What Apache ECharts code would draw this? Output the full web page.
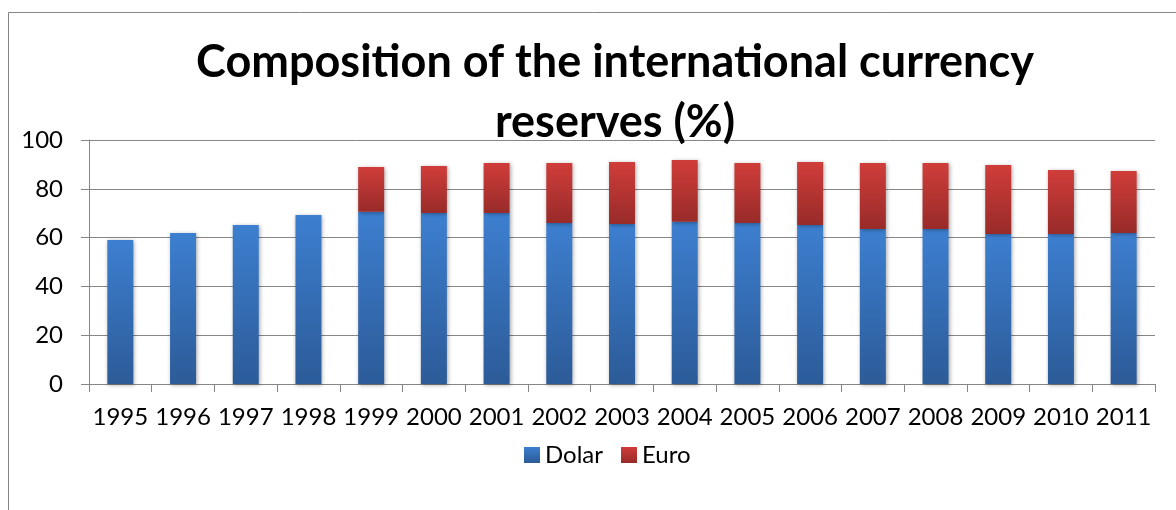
<!DOCTYPE html>
<html lang="en">
<head>
    <meta charset="UTF-8">
    <title>Composition of the international currency reserves</title>
    <script src="https://cdn.jsdelivr.net/npm/echarts@6/dist/echarts.min.js"></script>
    <style>
        html, body { margin: 0; padding: 0; background: #fff; }
    </style>
</head>
<body>
<div id="echart" style="width:1176px;height:510px"></div>
<script>
    var years = ['1995', '1996', '1997', '1998', '1999', '2000', '2001', '2002', '2003',
        '2004', '2005', '2006', '2007', '2008', '2009', '2010', '2011']
    var dolar = [59.0, 61.9, 65.2, 69.3, 70.6, 70.1, 70.1, 66.0, 65.6, 66.5, 66.0, 65.2, 63.5, 63.5, 61.5, 61.5, 61.9]
    var euro = [0, 0, 0, 0, 18.3, 19.2, 20.5, 24.6, 25.4, 25.3, 24.6, 25.8, 27.1, 27.1, 28.3, 26.2, 25.4]

    var fontName = 'Lato'
    var axisGray = '#868686'

    function grad(top, bottom) {
        return new echarts.graphic.LinearGradient(0, 0, 0, 1, [
            {offset: 0, color: top},
            {offset: 1, color: bottom}
        ])
    }

    var myChart = echarts.init(document.getElementById('echart'))
    myChart.setOption({
        animation: false,
        textStyle: {fontFamily: fontName},
        graphic: [{
            type: 'rect',
            shape: {x: 8.5, y: 12.5, width: 1300, height: 700},
            style: {fill: 'none', stroke: axisGray, lineWidth: 1},
            silent: true
        }],
        title: {
            text: 'Composition of the international currency\nreserves (%)',
            left: 610,
            textAlign: 'center',
            top: 27,
            textStyle: {
                fontFamily: fontName,
                fontSize: 45,
                fontWeight: 'bold',
                color: '#000',
                lineHeight: 60
            }
        },
        legend: {
            data: ['Dolar', 'Euro'],
            left: 519,
            top: 438,
            itemWidth: 16,
            itemHeight: 16,
            itemGap: 18,
            icon: 'rect',
            textStyle: {fontSize: 24, color: '#000', fontFamily: fontName}
        },
        grid: {left: 89, right: 21, top: 140, bottom: 126, containLabel: false},
        xAxis: {
            type: 'category',
            data: years,
            axisLine: {lineStyle: {color: axisGray}},
            axisTick: {show: true, length: 8, lineStyle: {color: axisGray}},
            axisLabel: {color: '#000', fontSize: 24, margin: 21, interval: 0}
        },
        yAxis: {
            type: 'value',
            min: 0,
            max: 100,
            interval: 20,
            axisLine: {show: true, lineStyle: {color: axisGray}},
            axisTick: {show: true, length: 8, lineStyle: {color: axisGray}},
            axisLabel: {color: '#000', fontSize: 24, margin: 26},
            splitLine: {lineStyle: {color: axisGray, width: 1}}
        },
        series: [{
            name: 'Dolar',
            type: 'bar',
            stack: 'total',
            barWidth: 26,
            data: dolar,
            itemStyle: {
                color: grad('#3d7fd0', '#2c5b98'),
                shadowColor: 'rgba(0,0,0,0.35)',
                shadowBlur: 4,
                shadowOffsetX: 1,
                shadowOffsetY: 1
            }
        }, {
            name: 'Euro',
            type: 'bar',
            stack: 'total',
            barWidth: 26,
            data: euro,
            itemStyle: {
                color: grad('#d03d3a', '#982b29'),
                shadowColor: 'rgba(0,0,0,0.35)',
                shadowBlur: 4,
                shadowOffsetX: 1,
                shadowOffsetY: 1
            }
        }]
    })
</script>
</body>
</html>
